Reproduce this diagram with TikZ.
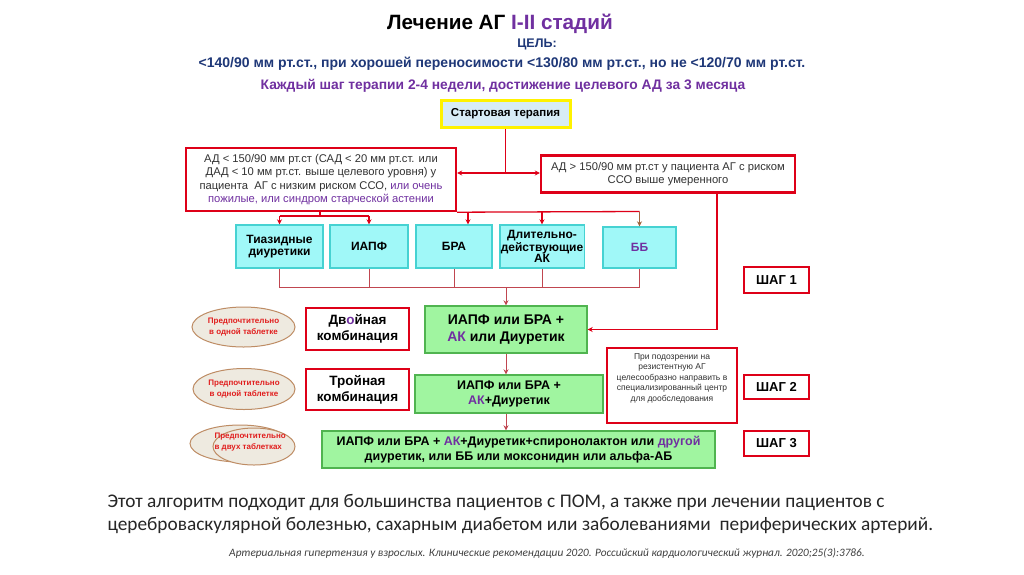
\documentclass[tikz,border=0pt]{standalone}
\usepackage{fontspec}
\setmainfont{Liberation Sans}
\newfontfamily\calib{Carlito}
\usetikzlibrary{shapes.geometric,arrows.meta}
\definecolor{redb}{RGB}{222,0,24}
\definecolor{purp}{RGB}{112,48,160}
\definecolor{navy}{RGB}{31,56,120}
\definecolor{txt}{RGB}{50,50,50}
\definecolor{cyanf}{RGB}{160,248,248}
\definecolor{cyanb}{RGB}{70,210,210}
\definecolor{greenf}{RGB}{160,245,160}
\definecolor{greenb}{RGB}{80,180,80}
\definecolor{maroon}{RGB}{192,70,80}
\definecolor{ellf}{RGB}{238,234,224}
\definecolor{ellb}{RGB}{190,140,100}
\definecolor{ellt}{RGB}{225,30,30}
\definecolor{brownarr}{RGB}{160,100,60}
\definecolor{startf}{RGB}{215,236,246}
\begin{document}
\begin{tikzpicture}[x=1pt,y=-1pt,
  redbox/.style={draw=redb,line width=2.4pt,fill=white,inner sep=2pt,align=center},
  drugbox/.style={draw=cyanb,line width=1.4pt,fill=cyanf,inner sep=1pt,align=center,minimum height=43pt,font=\bfseries\fontsize{12}{12.5}\selectfont},
  greenbox/.style={draw=greenb,line width=1.4pt,fill=greenf,inner sep=1pt,align=center,font=\bfseries},
  stepbox/.style={draw=redb,line width=2.4pt,fill=white,minimum width=65pt,font=\bfseries\fontsize{13}{15}\selectfont},
  combbox/.style={draw=redb,line width=2.4pt,fill=white,minimum width=103pt,align=center,font=\bfseries\fontsize{13.5}{16}\selectfont},
  ell/.style={ellipse,draw=ellb,line width=1pt,fill=ellf,inner sep=0pt},
  elltext/.style={text=ellt,align=center,font=\bfseries\fontsize{8}{11}\selectfont},
  conn/.style={draw=redb,line width=1.3pt},
  bus/.style={draw=maroon,line width=1pt},
  arr/.style={-{Stealth[length=5pt,width=5pt]}}
]
\useasboundingbox[fill=white] (0,0) rectangle (1024,574);

% Title block
\node (title) at (500,24) {\bfseries\fontsize{20.7}{24}\selectfont Лечение АГ \textcolor{purp}{I-II стадий}};
\node[text=navy] (goal) at (537,44) {\bfseries\fontsize{12.5}{14}\selectfont ЦЕЛЬ:};
\node[text=navy] (goal2) at (502,64) {\bfseries\fontsize{14}{16}\selectfont <140/90 мм рт.ст., при хорошей переносимости <130/80 мм рт.ст., но не <120/70 мм рт.ст.};
\node[text=purp] (goal3) at (503,86) {\bfseries\fontsize{13.8}{16}\selectfont Каждый шаг терапии 2-4 недели, достижение целевого АД за 3 месяца};

% Start
\node[draw=yellow,line width=3pt,fill=startf,minimum width=129pt,minimum height=27pt,font=\bfseries\fontsize{11.5}{13}\selectfont] (start) at (505.5,113.5) {Стартовая терапия};

% Condition boxes
\node[redbox,minimum width=270pt,minimum height=63pt,text=txt,font=\fontsize{11.2}{13.5}\selectfont] (left) at (321,179.5)
 {АД < 150/90 мм рт.ст (САД < 20 мм рт.ст. или\\ДАД < 10 мм рт.ст. выше целевого уровня) у\\пациента\ \ АГ с низким риском ССО, \textcolor{purp}{или очень}\\\textcolor{purp}{пожилые, или синдром старческой астении}};
\node[redbox,minimum width=254pt,minimum height=37pt,text=txt,font=\fontsize{11.2}{13.5}\selectfont] (right) at (668,174)
 {АД > 150/90 мм рт.ст у пациента АГ с риском\\ССО выше умеренного};

\coordinate (split) at (505.5,173);
\draw[conn] (start.south) -- (split);
\draw[conn,arr] (split) -- (left.east |- split);
\draw[conn,arr] (split) -- (right.west |- split);

% Drug boxes
\node[drugbox,minimum width=87pt] (thz) at (279.5,246.5) {Тиазидные\\диуретики};
\node[drugbox,minimum width=78pt] (iapf) at (369,246.5) {ИАПФ};
\node[drugbox,minimum width=76pt] (bra) at (454,246.5) {БРА};
\node[drugbox,minimum width=82pt,font=\bfseries\fontsize{12}{11}\selectfont] (ak) at (542,246.5) {Длительно-\\действующие\\АК};
\node[drugbox,minimum width=73pt,text=purp,minimum height=41pt] (bb) at (639.5,247.5) {ББ};

% From left box to drugs
\coordinate (lb) at (320,216);
\draw[conn] (left.south -| lb) -- (lb);
\draw[conn] (lb -| thz.north) -- (lb -| iapf.north);
\draw[conn,arr] (lb -| thz.north) -- (thz.north);
\draw[conn,arr] (lb -| iapf.north) -- (iapf.north);
\coordinate (rb) at (468,211.5);
\coordinate (rbb) at (639.5,211.5);
\draw[conn] (left.south east) -- (rbb);
\draw[conn,arr] (rb) -- (rb |- bra.north);
\draw[conn,arr] (rb -| ak.north) -- (ak.north);
\draw[draw=brownarr,line width=1pt,arr] (rbb) -- (bb.north);

% Bus to step 1
\coordinate (busy) at (506,287);
\node[greenbox,minimum width=162pt,minimum height=47pt,font=\bfseries\fontsize{14}{17}\selectfont] (g1) at (506,329.5) {ИАПФ или БРА +\\\textcolor{purp}{АК} или Диуретик};
\draw[bus] (thz.south) -- (thz.south |- busy) -- (bb.south |- busy) -- (bb.south);
\draw[bus] (iapf.south) -- (iapf.south |- busy);
\draw[bus] (bra.south) -- (bra.south |- busy);
\draw[bus] (ak.south) -- (ak.south |- busy);
\draw[bus,arr] (busy) -- (g1.north);

% Right box to g1
\coordinate (rc) at (717,329.5);
\draw[conn] (right.south -| rc) -- (rc);
\draw[conn,arr] (rc) -- (g1.east);

\node[greenbox,minimum width=188pt,minimum height=38pt,font=\bfseries\fontsize{12.5}{15}\selectfont] (g2) at (509,394) {ИАПФ или БРА +\\\textcolor{purp}{АК}+Диуретик};
\node[greenbox,minimum width=393pt,minimum height=37pt,font=\bfseries\fontsize{12.5}{15}\selectfont] (g3) at (518.5,449.5) {ИАПФ или БРА + \textcolor{purp}{АК}+Диуретик+спиронолактон или \textcolor{purp}{другой}\\диуретик, или ББ или моксонидин или альфа-АБ};
\draw[bus,arr] (g1.south -| busy) -- (g2.north -| busy);
\draw[bus,arr] (g2.south -| busy) -- (g3.north -| busy);

% Resistant box
\node[redbox,minimum width=130pt,minimum height=75pt] (res) at (672,385.5) {};
\node[text=txt,align=center,font=\fontsize{8.5}{10.5}\selectfont] (rest) at (672,378)
 {При подозрении на\\резистентную АГ\\целесообразно направить в\\специализированный центр\\для дообследования};

% Steps
\node[stepbox,minimum height=26pt] (s1) at (776.5,280) {ШАГ 1};
\node[stepbox,minimum height=24pt] (s2) at (776.5,387) {ШАГ 2};
\node[stepbox,minimum height=25pt] (s3) at (776.5,443.5) {ШАГ 3};

% Combination labels
\node[combbox,minimum height=42pt] (c2) at (357.5,329) {Дв\textcolor{purp}{о}йная\\комбинация};
\node[combbox,minimum height=41pt] (c3) at (357.5,389.5) {Тройная\\комбинация};

% Ellipses
\node[ell,minimum width=103pt,minimum height=40pt] (e1) at (243.5,327) {};
\node[elltext] (e1t) at (e1) {Предпочтительно\\в одной таблетке};
\node[ell,minimum width=102pt,minimum height=41pt] (e2) at (244,389) {};
\node[elltext] (e2t) at (e2) {Предпочтительно\\в одной таблетке};
\node[ell,minimum width=100pt,minimum height=37pt] (e3a) at (240,443.5) {};
\node[ell,minimum width=82pt,minimum height=37pt] (e3b) at (254,446.5) {};
\node[elltext,align=left,anchor=west] (e3t) at (211,442.5) {Предпочтительно\\в двух таблетках};

% Bottom text
\node[anchor=west,text=black!85,font=\calib\fontsize{19.3}{22.5}\selectfont,align=left] (note) at (104,514)
 {Этот алгоритм подходит для большинства пациентов с ПОМ, а также при лечении пациентов с\\цереброваскулярной болезнью, сахарным диабетом или заболеваниями\ \ периферических артерий.};
\node[text=black!75,font=\calib\itshape\fontsize{11.3}{13}\selectfont] (cite) at (547,553)
 {Артериальная гипертензия у взрослых. Клинические рекомендации 2020. Российский кардиологический журнал. 2020;25(3):3786.};
\end{tikzpicture}
\end{document}
